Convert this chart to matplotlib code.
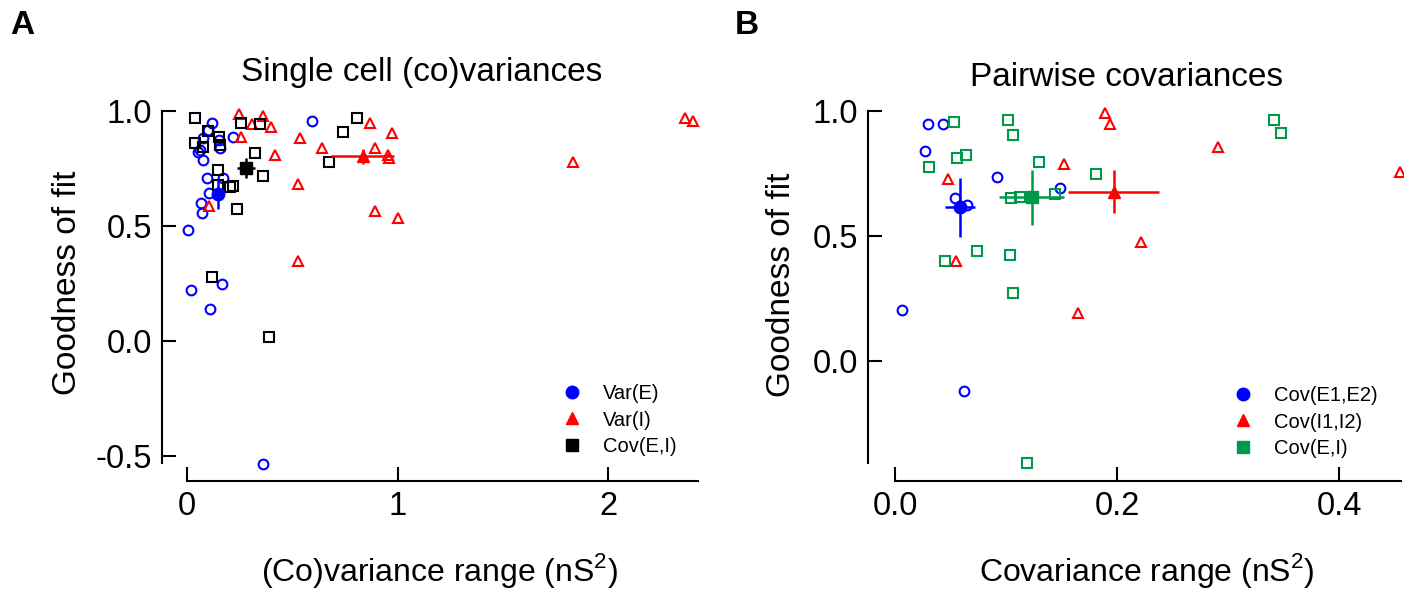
import numpy as np
import matplotlib
matplotlib.use('Agg')
import matplotlib.pyplot as plt
from matplotlib.lines import Line2D

# Style
plt.rcParams['font.family'] = ['Liberation Sans', 'DejaVu Sans']
plt.rcParams['mathtext.fontset'] = 'custom'
plt.rcParams['mathtext.rm'] = 'Liberation Sans'
plt.rcParams['axes.unicode_minus'] = False

BLUE = '#0000ff'
RED = '#ff0000'
BLACK = '#000000'
GREEN = '#00994c'
W, H = 1404, 593

# Panel A: single cell (co)variances
varE_x = [0.117, 0.593, 0.101, 0.078, 0.220, 0.157, 0.062, 0.054, 0.078, 0.094,
          0.173, 0.106, 0.067, 0.071, 0.006, 0.017, 0.164, 0.109, 0.360, 0.152]
varE_y = [0.947, 0.957, 0.917, 0.883, 0.888, 0.840, 0.830, 0.822, 0.787, 0.707,
          0.707, 0.642, 0.600, 0.557, 0.483, 0.224, 0.246, 0.139, -0.536, 0.874]
varI_x = [0.248, 0.362, 0.307, 0.398, 0.257, 0.537, 0.640, 0.869, 0.972, 0.893, 0.418,
          0.956, 0.961, 0.529, 0.106, 0.893, 1.004, 0.526, 1.832, 2.366, 2.402]
varI_y = [0.986, 0.980, 0.942, 0.932, 0.888, 0.884, 0.840, 0.947, 0.903, 0.840, 0.809,
          0.809, 0.796, 0.681, 0.588, 0.565, 0.536, 0.349, 0.780, 0.971, 0.957]
covEI_x = [0.038, 0.257, 0.345, 0.101, 0.153, 0.038, 0.077, 0.155, 0.323, 0.149,
           0.362, 0.145, 0.203, 0.219, 0.236, 0.806, 0.740, 0.673, 0.117, 0.391]
covEI_y = [0.968, 0.947, 0.943, 0.913, 0.888, 0.860, 0.845, 0.852, 0.816, 0.743,
           0.719, 0.678, 0.671, 0.676, 0.573, 0.971, 0.907, 0.780, 0.280, 0.019]
# means (x, y, xerr, yerr)
meanA = {'Var(E)': (0.146, 0.638, 0.008, 0.065),
         'Var(I)': (0.835, 0.804, 0.150, 0.033),
         'Cov(E,I)': (0.280, 0.753, 0.043, 0.043)}

# Panel B: pairwise covariances
covE12_x = [0.030, 0.043, 0.027, 0.092, 0.054, 0.065, 0.149, 0.0066, 0.0624]
covE12_y = [0.947, 0.947, 0.840, 0.737, 0.653, 0.624, 0.691, 0.204, -0.119]
covI12_x = [0.189, 0.194, 0.152, 0.048, 0.055, 0.222, 0.165, 0.291, 0.455]
covI12_y = [0.991, 0.947, 0.787, 0.727, 0.402, 0.477, 0.191, 0.855, 0.757]
covEIp_x = [0.053, 0.1015, 0.106, 0.056, 0.064, 0.031, 0.130, 0.181, 0.1045,
            0.1126, 0.144, 0.0736, 0.045, 0.104, 0.106, 0.119, 0.341, 0.348]
covEIp_y = [0.955, 0.964, 0.904, 0.813, 0.824, 0.777, 0.795, 0.747, 0.651,
            0.655, 0.668, 0.441, 0.401, 0.424, 0.274, -0.409, 0.964, 0.913]
meanB = {'Cov(E1,E2)': (0.0586, 0.615, 0.0135, 0.117),
         'Cov(I1,I2)': (0.197, 0.677, 0.041, 0.087),
         'Cov(E,I)': (0.123, 0.655, 0.029, 0.110)}


def fx(px):
    return px / W


def fy(py):
    return 1 - py / H


def style_axes(ax, xticks, xlabels, yticks, ylabels, left_off, bottom_off):
    for s in ['top', 'right']:
        ax.spines[s].set_visible(False)
    ax.spines['left'].set_position(('outward', left_off))
    ax.spines['bottom'].set_position(('outward', bottom_off))
    for s in ['left', 'bottom']:
        ax.spines[s].set_linewidth(1.5)
    ax.set_xticks(xticks)
    ax.set_xticklabels(xlabels)
    ax.set_yticks(yticks)
    ax.set_yticklabels(ylabels)
    ax.tick_params(direction='in', length=10, width=1.5, labelsize=23.5, pad=7)
    ax.patch.set_visible(False)


def scatter_open(ax, x, y, marker, color, ms):
    ax.plot(x, y, linestyle='none', marker=marker, ms=ms, mfc='none', mec=color,
            mew=1.5, clip_on=False)


def mean_point(ax, m, marker, color, ms=9):
    x, y, xe, ye = m
    ax.errorbar([x], [y], xerr=[xe], yerr=[ye], fmt=marker, color=color, ms=ms,
                elinewidth=1.8, capsize=0, clip_on=False)


fig = plt.figure(figsize=(W / 100, H / 100), dpi=100)

# ---- Panel A
axA = fig.add_axes([fx(187), fy(463), (698 - 187) / W, (463 - 111) / H])
axA.set_xlim(0, (698 - 187) / 210.5)
axA.set_ylim(-0.53, 1.0)
scatter_open(axA, varE_x, varE_y, 'o', BLUE, 7)
scatter_open(axA, varI_x, varI_y, '^', RED, 7.5)
scatter_open(axA, covEI_x, covEI_y, 's', BLACK, 6.5)
mean_point(axA, meanA['Var(E)'], 'o', BLUE)
mean_point(axA, meanA['Var(I)'], '^', RED)
mean_point(axA, meanA['Cov(E,I)'], 's', BLACK)
style_axes(axA, [0, 1, 2], ['0', '1', '2'], [-0.5, 0.0, 0.5, 1.0],
           ['-0.5', '0.0', '0.5', '1.0'], 18, 13)
handlesA = [Line2D([], [], ls='none', marker='o', color=BLUE, ms=9),
            Line2D([], [], ls='none', marker='^', color=RED, ms=9),
            Line2D([], [], ls='none', marker='s', color=BLACK, ms=8.5)]
axA.legend(handlesA, list(meanA.keys()), loc='center left', frameon=False,
           bbox_to_anchor=(fx(562), fy(420)), bbox_transform=fig.transFigure,
           fontsize=14.5, borderpad=0, handlelength=1.0, handletextpad=1.05,
           labelspacing=0.35, borderaxespad=0)

# ---- Panel B
axB = fig.add_axes([fx(895), fy(463), (1401 - 895) / W, (463 - 111) / H])
axB.set_xlim(0, (1401 - 895) / 1110)
axB.set_ylim(1 - 352 / 250, 1.0)
scatter_open(axB, covE12_x, covE12_y, 'o', BLUE, 7)
scatter_open(axB, covI12_x, covI12_y, '^', RED, 7.5)
scatter_open(axB, covEIp_x, covEIp_y, 's', GREEN, 6.5)
mean_point(axB, meanB['Cov(E1,E2)'], 'o', BLUE)
mean_point(axB, meanB['Cov(I1,I2)'], '^', RED)
mean_point(axB, meanB['Cov(E,I)'], 's', GREEN)
style_axes(axB, [0.0, 0.2, 0.4], ['0.0', '0.2', '0.4'], [0.0, 0.5, 1.0],
           ['0.0', '0.5', '1.0'], 19.5, 13)
handlesB = [Line2D([], [], ls='none', marker='o', color=BLUE, ms=9),
            Line2D([], [], ls='none', marker='^', color=RED, ms=9),
            Line2D([], [], ls='none', marker='s', color=GREEN, ms=8.5)]
axB.legend(handlesB, list(meanB.keys()), loc='center left', frameon=False,
           bbox_to_anchor=(fx(1233), fy(422)), bbox_transform=fig.transFigure,
           fontsize=14.5, borderpad=0, handlelength=1.0, handletextpad=1.05,
           labelspacing=0.35, borderaxespad=0)

# ---- Texts
fig.text(fx(10), fy(26), 'A', fontsize=24, fontweight='bold', ha='left', va='center')
fig.text(fx(735), fy(26), 'B', fontsize=24, fontweight='bold', ha='left', va='center')
fig.text(fx(422), fy(73), 'Single cell (co)variances', fontsize=24, ha='center', va='center')
fig.text(fx(1127), fy(78), 'Pairwise covariances', fontsize=24, ha='center', va='center')
fig.text(fx(68), fy(283), 'Goodness of fit', fontsize=24, rotation=90, ha='center', va='center')
fig.text(fx(782), fy(285), 'Goodness of fit', fontsize=24, rotation=90, ha='center', va='center')
fig.text(fx(440), fy(570), r'(Co)variance range (nS$^2$)', fontsize=23, ha='center', va='center')
fig.text(fx(1147), fy(570), r'Covariance range (nS$^2$)', fontsize=23, ha='center', va='center')

fig.savefig('out.png', dpi=100)
